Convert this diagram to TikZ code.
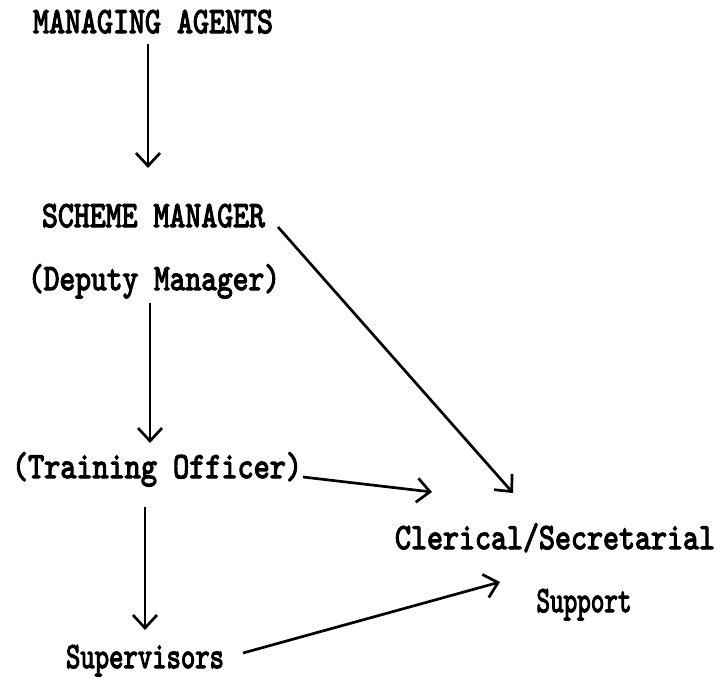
\documentclass[tikz,border=0pt]{standalone}
\usepackage{fontspec}
\newfontfamily\twfont{lmmono10-regular.otf}[FakeBold=3.5]
\usetikzlibrary{arrows.meta}
\newcommand{\fitw}[2]{\resizebox{#1pt}{\height}{#2}}
\tikzset{
  lbl/.style={inner sep=0pt, anchor=base, font=\twfont\fontsize{37}{40}\selectfont},
  arr/.style={line width=2.7pt, -{Straight Barb[length=13pt, width=24pt, line width=2.7pt]}}
}
\begin{document}
\begin{tikzpicture}[x=1pt,y=-1pt]
\useasboundingbox (0,0) rectangle (722,681);
\node[lbl] (ma) at (153,33) {\fitw{240}{MANAGING AGENTS}};
\node[lbl] (sm) at (153.5,227) {\fitw{223}{SCHEME MANAGER}};
\node[lbl] (dm) at (154,290) {\fitw{252}{(Deputy Manager)}};
\node[lbl] (to) at (157,478) {\fitw{290}{(Training Officer)}};
\node[lbl] (cs) at (555,549) {\fitw{320}{Clerical/Secretarial}};
\node[lbl] (sp) at (584,612) {\fitw{95}{Support}};
\node[lbl] (sv) at (145,668) {\fitw{158}{Supervisors}};
\draw[arr] ([shift={(-5,11)}]ma.base) -- ([shift={(-5.5,-59)}]sm.base);
\draw[arr] ([shift={(-4,13)}]dm.base) -- ([shift={(-7,-35)}]to.base);
\draw[arr] ([shift={(-12,29)}]to.base) -- ([shift={(0,-38)}]sv.base);
\draw[arr] ([shift={(146,-1)}]to.base) -- ([shift={(-123,-57)}]cs.base);
\draw[arr] ([shift={(124.5,0)}]sm.base) -- ([shift={(-42,-56)}]cs.base);
\draw[arr] ([shift={(98,-15)}]sv.base) -- ([shift={(-55,33)}]cs.base);
\end{tikzpicture}
\end{document}
